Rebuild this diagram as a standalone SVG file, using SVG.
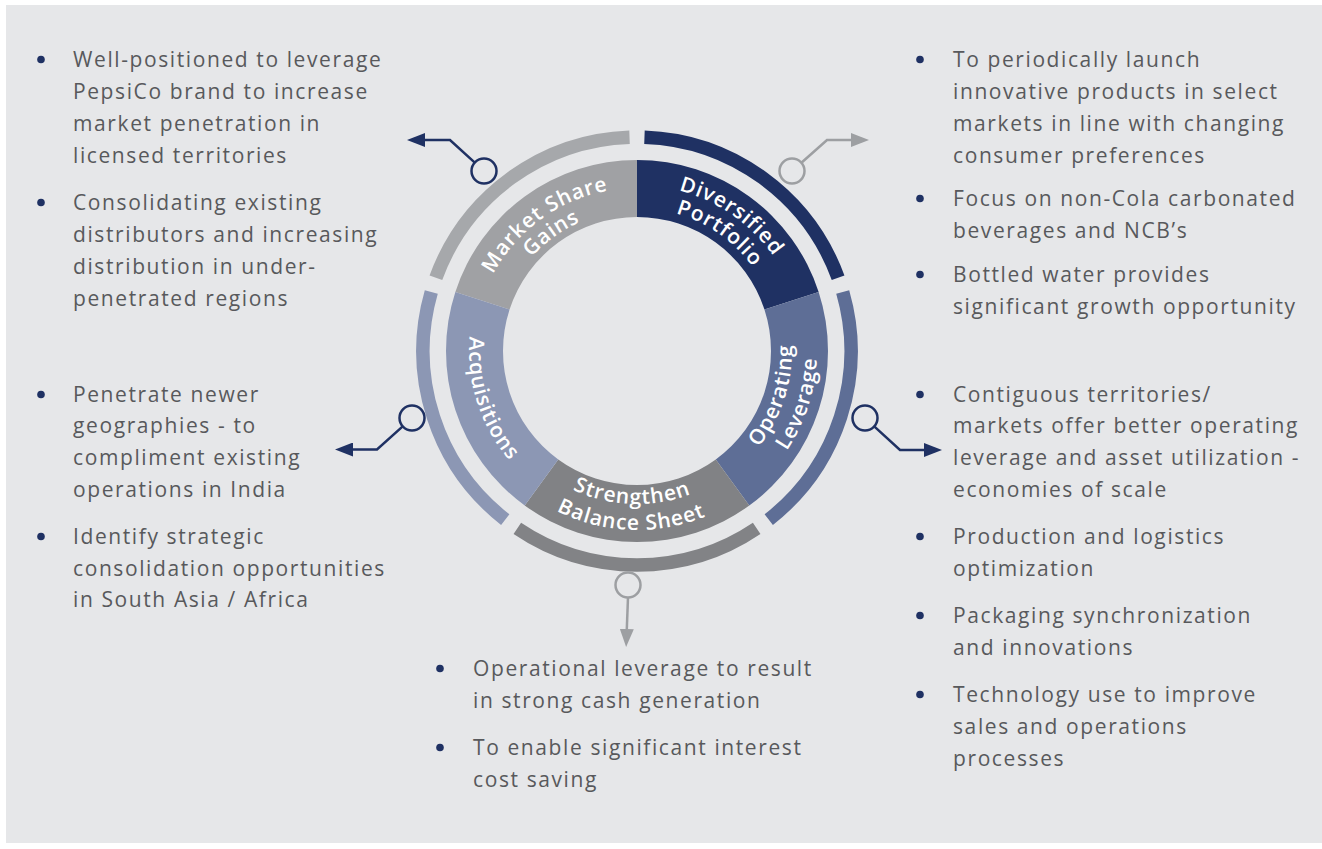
<svg xmlns="http://www.w3.org/2000/svg" width="1322" height="849" viewBox="0 0 1322 849">
<style>
.bt{font-family:"Open Sans","Liberation Sans",sans-serif;font-size:21px;letter-spacing:1.6px;fill:#58595c;}
.lb{font-family:"Open Sans","Liberation Sans",sans-serif;font-size:21px;letter-spacing:0.9px;font-weight:600;fill:#ffffff;}
.dot{fill:#1f3163;}
.oarc{fill:none;stroke-width:13.5;stroke-linecap:butt;}
.cn{fill:none;stroke:#1f3163;stroke-width:2.5;}
.cg{fill:none;stroke:#9d9fa2;stroke-width:2.5;}
</style>
<defs>
<marker id="an" markerUnits="userSpaceOnUse" viewBox="0 0 18 14" refX="0" refY="7" markerWidth="18" markerHeight="14" orient="auto"><path d="M0,0 L18,7 L0,14 Z" fill="#1f3163"/></marker>
<marker id="ag" markerUnits="userSpaceOnUse" viewBox="0 0 18 14" refX="0" refY="7" markerWidth="18" markerHeight="14" orient="auto"><path d="M0,0 L18,7 L0,14 Z" fill="#9d9fa2"/></marker>
<path id="pMS1" d="M 474.89 368.04 A 163 163 0 0 1 703.30 202.09"/>
<path id="pMS2" d="M 496.77 365.74 A 141 141 0 0 1 694.35 222.19"/>
<path id="pDP1" d="M 566.85 200.55 A 166 166 0 0 1 802.37 365.47"/>
<path id="pDP2" d="M 576.57 221.40 A 143 143 0 0 1 779.46 363.46"/>
<path id="pOL1" d="M 669.23 502.61 A 155 155 0 0 0 752.19 247.28"/>
<path id="pOL2" d="M 674.42 527.07 A 180 180 0 0 0 770.77 230.56"/>
<path id="pAQ" d="M 512.15 238.59 A 168 168 0 0 0 602.07 515.33"/>
<path id="pBS1" d="M 501.91 422.83 A 153 153 0 0 0 766.75 432.08"/>
<path id="pBS2" d="M 478.95 435.03 A 179 179 0 0 0 788.80 445.86"/>
</defs>
<rect x="0" y="0" width="1322" height="849" fill="#ffffff"/>
<rect x="6" y="5" width="1316" height="838" fill="#e6e7e9"/>

<g id="market-share-gains">
<path d="M 455.35 291.98 A 191 191 0 0 1 637 160 L 637 217 A 134 134 0 0 0 509.56 309.59 Z" fill="#a0a1a4"/>
<path class="oarc" stroke="#a6a8ab" d="M 435.91 277.81 A 214 214 0 0 1 629.53 137.13"/>
<text class="lb"><textPath href="#pMS1" startOffset="50%" text-anchor="middle">Market Share</textPath></text>
<text class="lb"><textPath href="#pMS2" startOffset="50%" text-anchor="middle">Gains</textPath></text>
</g>
<g id="diversified-portfolio">
<path d="M 637 160 A 191 191 0 0 1 818.65 291.98 L 764.44 309.59 A 134 134 0 0 0 637 217 Z" fill="#1f3163"/>
<path class="oarc" stroke="#1f3163" d="M 644.47 137.13 A 214 214 0 0 1 838.09 277.81"/>
<text class="lb"><textPath href="#pDP1" startOffset="50%" text-anchor="middle">Diversified</textPath></text>
<text class="lb"><textPath href="#pDP2" startOffset="50%" text-anchor="middle">Portfolio</textPath></text>
</g>
<g id="operating-leverage">
<path d="M 818.65 291.98 A 191 191 0 0 1 749.27 505.52 L 715.76 459.41 A 134 134 0 0 0 764.44 309.59 Z" fill="#5e6e96"/>
<path class="oarc" stroke="#5e6e96" d="M 842.71 292.01 A 214 214 0 0 1 768.75 519.63"/>
<text class="lb"><textPath href="#pOL1" startOffset="50%" text-anchor="middle">Operating</textPath></text>
<text class="lb"><textPath href="#pOL2" startOffset="50%" text-anchor="middle">Leverage</textPath></text>
</g>
<g id="strengthen-balance-sheet">
<path d="M 749.27 505.52 A 191 191 0 0 1 524.73 505.52 L 558.24 459.41 A 134 134 0 0 0 715.76 459.41 Z" fill="#818285"/>
<path class="oarc" stroke="#828386" d="M 756.67 528.41 A 214 214 0 0 1 517.33 528.41"/>
<text class="lb"><textPath href="#pBS1" startOffset="50%" text-anchor="middle">Strengthen</textPath></text>
<text class="lb"><textPath href="#pBS2" startOffset="50%" text-anchor="middle">Balance Sheet</textPath></text>
</g>
<g id="acquisitions">
<path d="M 524.73 505.52 A 191 191 0 0 1 455.35 291.98 L 509.56 309.59 A 134 134 0 0 0 558.24 459.41 Z" fill="#8c97b4"/>
<path class="oarc" stroke="#8c97b4" d="M 505.25 519.63 A 214 214 0 0 1 431.29 292.01"/>
<text class="lb"><textPath href="#pAQ" startOffset="50%" text-anchor="middle">Acquisitions</textPath></text>
</g>

<g id="connectors">
<circle class="cn" cx="484" cy="171" r="12.5"/>
<path class="cn" d="M 474.8 162.6 L 450 140 L 425 140" marker-end="url(#an)"/>
<circle class="cg" cx="792" cy="171" r="12.5"/>
<path class="cg" d="M 801.4 162.7 L 827 140 L 851 140" marker-end="url(#ag)"/>
<circle class="cn" cx="412" cy="418" r="12.5"/>
<path class="cn" d="M 402.7 426.4 L 377 449.5 L 353 449.5" marker-end="url(#an)"/>
<circle class="cn" cx="865" cy="418" r="12.5"/>
<path class="cn" d="M 874.2 426.4 L 900 450 L 924 450" marker-end="url(#an)"/>
<circle class="cg" cx="628" cy="585" r="12.5"/>
<path class="cg" d="M 628 597.5 L 626.8 629" marker-end="url(#ag)"/>
</g>

<g id="text-market-share">
<circle class="dot" cx="41" cy="59.5" r="3.8"/>
<circle class="dot" cx="41" cy="202.5" r="3.8"/>
<text class="bt"><tspan x="73" y="67">Well-positioned to leverage</tspan><tspan x="73" y="99">PepsiCo brand to increase</tspan><tspan x="73" y="131">market penetration in</tspan><tspan x="73" y="163">licensed territories</tspan><tspan x="73" y="210">Consolidating existing</tspan><tspan x="73" y="242">distributors and increasing</tspan><tspan x="73" y="274">distribution in under-</tspan><tspan x="73" y="306">penetrated regions</tspan></text>
</g>
<g id="text-acquisitions">
<circle class="dot" cx="41" cy="394.5" r="3.8"/>
<circle class="dot" cx="41" cy="536.5" r="3.8"/>
<text class="bt"><tspan x="73" y="402">Penetrate newer</tspan><tspan x="73" y="433">geographies - to</tspan><tspan x="73" y="465">compliment existing</tspan><tspan x="73" y="497">operations in India</tspan><tspan x="73" y="544">Identify strategic</tspan><tspan x="73" y="576">consolidation opportunities</tspan><tspan x="73" y="607">in South Asia / Africa</tspan></text>
</g>
<g id="text-diversified">
<circle class="dot" cx="920" cy="59.5" r="3.8"/>
<circle class="dot" cx="920" cy="198.5" r="3.8"/>
<circle class="dot" cx="920" cy="274.5" r="3.8"/>
<text class="bt"><tspan x="953" y="67">To periodically launch</tspan><tspan x="953" y="99">innovative products in select</tspan><tspan x="953" y="131">markets in line with changing</tspan><tspan x="953" y="163">consumer preferences</tspan><tspan x="953" y="206">Focus on non-Cola carbonated</tspan><tspan x="953" y="238">beverages and NCB’s</tspan><tspan x="953" y="282">Bottled water provides</tspan><tspan x="953" y="314">significant growth opportunity</tspan></text>
</g>
<g id="text-operating">
<circle class="dot" cx="920" cy="394.5" r="3.8"/>
<circle class="dot" cx="920" cy="536.5" r="3.8"/>
<circle class="dot" cx="920" cy="615.5" r="3.8"/>
<circle class="dot" cx="920" cy="694.5" r="3.8"/>
<text class="bt"><tspan x="953" y="402">Contiguous territories/</tspan><tspan x="953" y="433">markets offer better operating</tspan><tspan x="953" y="465">leverage and asset utilization -</tspan><tspan x="953" y="497">economies of scale</tspan><tspan x="953" y="544">Production and logistics</tspan><tspan x="953" y="576">optimization</tspan><tspan x="953" y="623">Packaging synchronization</tspan><tspan x="953" y="655">and innovations</tspan><tspan x="953" y="702">Technology use to improve</tspan><tspan x="953" y="734">sales and operations</tspan><tspan x="953" y="766">processes</tspan></text>
</g>
<g id="text-balance-sheet">
<circle class="dot" cx="440" cy="668.5" r="3.8"/>
<circle class="dot" cx="440" cy="747.5" r="3.8"/>
<text class="bt"><tspan x="473" y="676">Operational leverage to result</tspan><tspan x="473" y="708">in strong cash generation</tspan><tspan x="473" y="755">To enable significant interest</tspan><tspan x="473" y="787">cost saving</tspan></text>
</g>
</svg>
